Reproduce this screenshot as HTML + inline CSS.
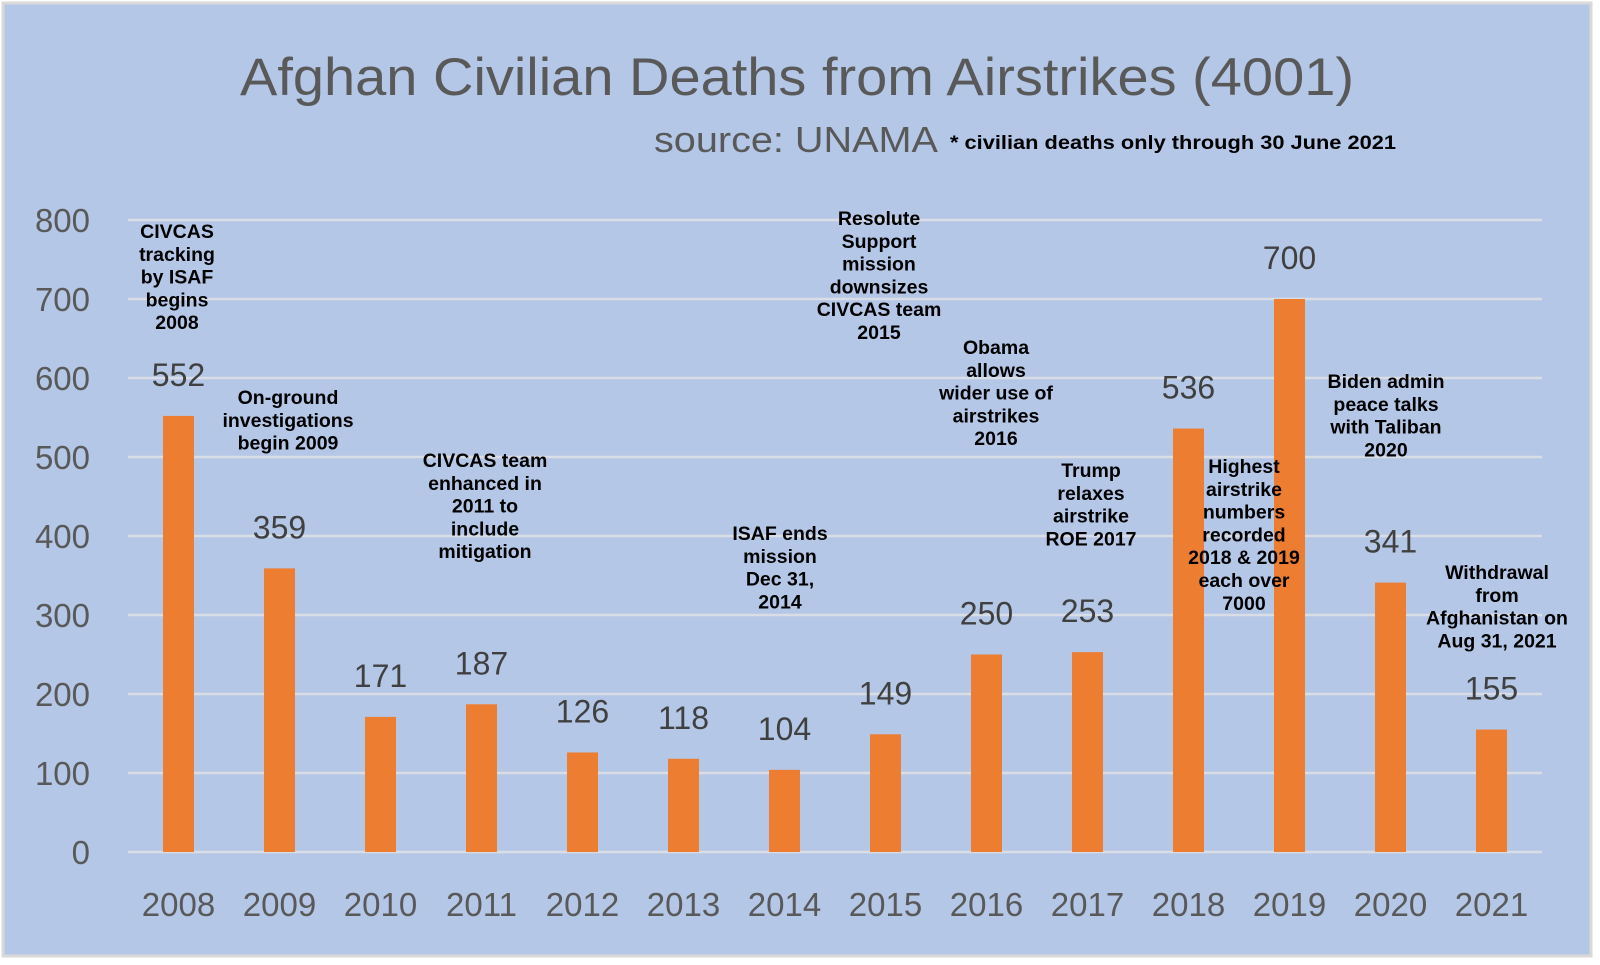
<!DOCTYPE html>
<html><head><meta charset="utf-8"><style>
html,body{margin:0;padding:0;background:#fff;}
svg{display:block;}
.ann{font-family:"Liberation Sans",Arial,sans-serif;font-weight:bold;font-size:19.5px;fill:#000;text-anchor:middle;}
</style></head><body>
<svg id="chart" width="1600" height="965" viewBox="0 0 1600 965" xmlns="http://www.w3.org/2000/svg">
<rect x="0" y="0" width="1600" height="965" fill="#ffffff"/>
<rect x="3" y="3" width="1588" height="953" fill="#b4c7e7" stroke="#d9d9d9" stroke-width="3"/>
<text x="240" y="95" font-family="Liberation Sans, sans-serif" font-size="53" fill="#595959" textLength="1114" lengthAdjust="spacingAndGlyphs">Afghan Civilian Deaths from Airstrikes (4001)</text>
<text x="654" y="152" font-family="Liberation Sans, sans-serif" font-size="36" fill="#595959" textLength="284" lengthAdjust="spacingAndGlyphs">source: UNAMA</text>
<text x="950" y="149" font-family="Liberation Sans, sans-serif" font-weight="bold" font-size="19.5" fill="#000" textLength="446" lengthAdjust="spacingAndGlyphs">* civilian deaths only through 30 June 2021</text>
<g id="grid"></g><g id="bars"></g><g id="labels"></g>
<g>
<text class="ann"><tspan x="177" y="238">CIVCAS</tspan><tspan x="177" dy="22.8">tracking</tspan><tspan x="177" dy="22.8">by ISAF</tspan><tspan x="177" dy="22.8">begins</tspan><tspan x="177" dy="22.8">2008</tspan></text>
<text class="ann"><tspan x="288" y="404">On-ground</tspan><tspan x="288" dy="22.8">investigations</tspan><tspan x="288" dy="22.8">begin 2009</tspan></text>
<text class="ann"><tspan x="485" y="467">CIVCAS team</tspan><tspan x="485" dy="22.8">enhanced in</tspan><tspan x="485" dy="22.8">2011 to</tspan><tspan x="485" dy="22.8">include</tspan><tspan x="485" dy="22.8">mitigation</tspan></text>
<text class="ann"><tspan x="780" y="540">ISAF ends</tspan><tspan x="780" dy="22.8">mission</tspan><tspan x="780" dy="22.8">Dec 31,</tspan><tspan x="780" dy="22.8">2014</tspan></text>
<text class="ann"><tspan x="879" y="225">Resolute</tspan><tspan x="879" dy="22.8">Support</tspan><tspan x="879" dy="22.8">mission</tspan><tspan x="879" dy="22.8">downsizes</tspan><tspan x="879" dy="22.8">CIVCAS team</tspan><tspan x="879" dy="22.8">2015</tspan></text>
<text class="ann"><tspan x="996" y="354">Obama</tspan><tspan x="996" dy="22.8">allows</tspan><tspan x="996" dy="22.8">wider use of</tspan><tspan x="996" dy="22.8">airstrikes</tspan><tspan x="996" dy="22.8">2016</tspan></text>
<text class="ann"><tspan x="1091" y="477">Trump</tspan><tspan x="1091" dy="22.8">relaxes</tspan><tspan x="1091" dy="22.8">airstrike</tspan><tspan x="1091" dy="22.8">ROE 2017</tspan></text>
<text class="ann"><tspan x="1244" y="473">Highest</tspan><tspan x="1244" dy="22.8">airstrike</tspan><tspan x="1244" dy="22.8">numbers</tspan><tspan x="1244" dy="22.8">recorded</tspan><tspan x="1244" dy="22.8">2018 &amp; 2019</tspan><tspan x="1244" dy="22.8">each over</tspan><tspan x="1244" dy="22.8">7000</tspan></text>
<text class="ann"><tspan x="1386" y="388">Biden admin</tspan><tspan x="1386" dy="22.8">peace talks</tspan><tspan x="1386" dy="22.8">with Taliban</tspan><tspan x="1386" dy="22.8">2020</tspan></text>
<text class="ann"><tspan x="1497" y="579">Withdrawal</tspan><tspan x="1497" dy="22.8">from</tspan><tspan x="1497" dy="22.8">Afghanistan on</tspan><tspan x="1497" dy="22.8">Aug 31, 2021</tspan></text>
</g>
</svg>
<script>
const years = ["2008","2009","2010","2011","2012","2013","2014","2015","2016","2017","2018","2019","2020","2021"];
const deaths = [552,359,171,187,126,118,104,149,250,253,536,700,341,155];
const yTicks = [0,100,200,300,400,500,600,700,800];

const NS = "http://www.w3.org/2000/svg";
const plotL = 128, plotR = 1542, baseY = 852, topY = 220, yMax = 800;
const band = (plotR - plotL) / years.length;
const barW = 31;
function yScale(v){ return baseY - (v / yMax) * (baseY - topY); }
function xCenter(i){ return plotL + band * (i + 0.5); }
function mk(tag, attrs, parent){
  const el = document.createElementNS(NS, tag);
  for (const k in attrs) el.setAttribute(k, attrs[k]);
  parent.appendChild(el);
  return el;
}
const grid = document.getElementById('grid');
const bars = document.getElementById('bars');
const labels = document.getElementById('labels');
yTicks.forEach(t => {
  const y = yScale(t);
  const ln = mk('line', {x1: plotL, x2: plotR, y1: y, y2: y, stroke: '#d9dde6', 'stroke-width': 2.5}, grid);
  
  
  const tx = mk('text', {x: 90, y: y + 12, 'text-anchor': 'end', 'font-family': 'Liberation Sans, sans-serif', 'font-size': 33, fill: '#595959'}, grid);
  tx.textContent = t;
  
  
});
years.forEach((yr, i) => {
  const cx = xCenter(i), v = deaths[i], y = yScale(v);
  const r = mk('rect', {x: cx - barW/2, y: y, width: barW, height: baseY - y, fill: '#ed7d31'}, bars);
  
  
  const vl = mk('text', {x: cx, y: y - 30, 'text-anchor': 'middle', 'font-family': 'Liberation Sans, sans-serif', 'font-size': 32, fill: '#404040'}, labels);
  vl.textContent = v;
  
  
  const xl = mk('text', {x: cx, y: 916, 'text-anchor': 'middle', 'font-family': 'Liberation Sans, sans-serif', 'font-size': 33, fill: '#595959'}, labels);
  xl.textContent = yr;
  
  
});
</script>
</body></html>
